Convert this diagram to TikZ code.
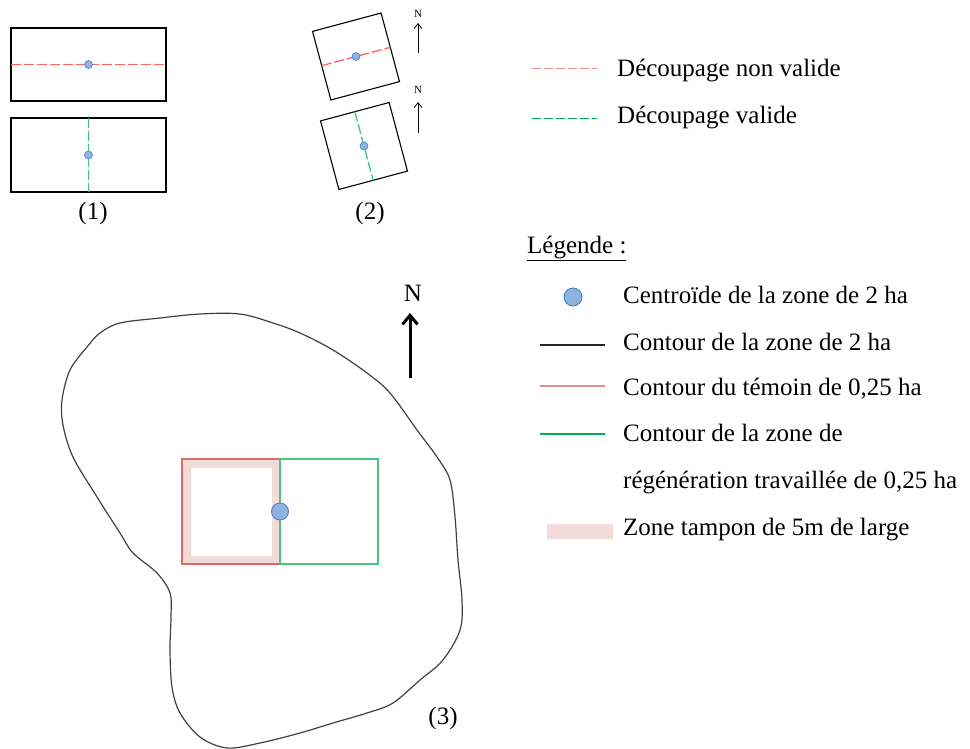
\documentclass[tikz,border=0pt]{standalone}
\usepackage{fontspec}
\setmainfont{Liberation Serif}
\usetikzlibrary{arrows.meta,positioning,backgrounds}
\definecolor{cutRed}{HTML}{FF6464}
\definecolor{cutGreen}{HTML}{3CC878}
\definecolor{legRed}{HTML}{D9908E}
\definecolor{legGreen}{HTML}{00B050}
\definecolor{edgeRed}{HTML}{DB6B68}
\definecolor{edgeGreen}{HTML}{4CC47E}
\definecolor{dotFill}{HTML}{8DB3E2}
\definecolor{dotLine}{HTML}{4A7EBB}
\definecolor{bufPink}{HTML}{F2DCDB}
\definecolor{blobInk}{HTML}{404040}

\begin{document}
\begin{tikzpicture}[x=1pt, y=-1pt,
  font=\fontsize{25}{30}\selectfont,
  rectbox/.style={draw=black, line width=1.2pt, inner sep=0pt, outer sep=0pt,
                  minimum width=155pt},
  sqbox/.style={draw=black, line width=1.1pt, inner sep=0pt, outer sep=0pt,
                minimum size=71pt, rotate=15},
  zonebox/.style={line width=1.2pt, inner sep=0pt, outer sep=0pt,
                  minimum width=98pt, minimum height=105pt},
  dot/.style={circle, fill=dotFill, draw=dotLine, line width=0.6pt,
              inner sep=0pt, minimum size=8pt},
  bigdot/.style={dot, line width=0.8pt, minimum size=17pt},
  cutbad/.style={cutRed, line width=1.3pt, dash pattern=on 10pt off 3pt},
  cutgood/.style={cutbad, cutGreen},
  lab/.style={anchor=base, inner sep=0pt},
  smalln/.style={lab, font=\fontsize{11}{13}\selectfont},
  narrow/.style={-{Straight Barb[length=5pt,width=8pt]}, line width=0.8pt},
  bigarr/.style={-{Straight Barb[length=9pt,width=15pt]}, line width=3pt},
  legtext/.style={anchor=base west, inner sep=0pt},
  legline/.style={line width=1.2pt},
  legdash/.style={line width=1pt, dash pattern=on 9pt off 3pt}
]
  \useasboundingbox (0,0) rectangle (970,749);

  % (1)
  \node[rectbox, minimum height=73pt] (recta) at (88.5,64.5) {};
  \node[rectbox, minimum height=74pt] (rectb) at (88.5,155) {};
  \draw[cutbad] (recta.west) -- (recta.east);
  \draw[cutgood] (rectb.north) -- (rectb.south);
  \node[dot] (dota) at (recta.center) {};
  \node[dot] (dotb) at (rectb.center) {};
  \node[lab] (lab1) at (93,219) {(1)};

  % (2)
  \node[sqbox] (sqa) at (356,56.5) {};
  \node[sqbox] (sqb) at (364,146) {};
  \draw[cutbad] (sqa.west) -- (sqa.east);
  \draw[cutgood] (sqb.north) -- (sqb.south);
  \node[dot] (dotc) at (sqa.center) {};
  \node[dot] (dotd) at (sqb.center) {};
  \node[smalln] (na) at (418,17.5) {N};
  \coordinate (naBase) at (418,53);
  \coordinate (naTip) at (418,23);
  \draw[narrow] (naBase) -- (naTip);
  \node[smalln] (nb) at (418,94) {N};
  \coordinate (nbBase) at (418,133);
  \coordinate (nbTip) at (418,102);
  \draw[narrow] (nbBase) -- (nbTip);
  \node[lab] (lab2) at (370,219) {(2)};

  % (3)
  \draw[blobInk, line width=1.2pt] plot[smooth cycle, tension=0.55] coordinates {
    (120,323) (160,318) (200,314) (240,314) (273,323) (300,333) (333,350)
    (367,373) (390,393) (417,430) (437,457) (450,480) (455,517) (458,560)
    (462,600) (460,630) (443,660) (420,680) (393,703) (367,713) (333,723)
    (300,733) (260,743) (227,748) (200,737) (180,713) (172,687) (170,650)
    (171,617) (170,593) (157,573) (133,553) (120,533) (97,497) (73,457)
    (63,425) (62,400) (70,370) (87,347) (100,333)};
  \node[zonebox, draw=edgeRed] (temoin) at (231,511.5) {};
  \node[zonebox, draw=edgeGreen] (regen) at (329,511.5) {};
  \begin{scope}[on background layer]
    \draw[bufPink, line width=8.5pt]
      ([shift={(4.25,4.25)}]temoin.north west) rectangle
      ([shift={(-4.25,-4.25)}]temoin.south east);
  \end{scope}
  \node[bigdot] (centre) at (temoin.east) {};
  \node[lab] (nbig) at (413,301.5) {N};
  \coordinate (nBase) at (410,378);
  \coordinate (nTip) at (410,313);
  \draw[bigarr] (nBase) -- (nTip);
  \node[lab] (lab3) at (443,724) {(3)};

  % legend
  \draw[legdash, legRed] (532,69) -- (597,69);
  \node[legtext] (tbad) at (617,76.5) {Découpage non valide};
  \draw[legdash, legGreen] (532,119) -- (597,119);
  \node[legtext] (tgood) at (617,123.5) {Découpage valide};

  \node[legtext] (legtitle) at (527,253) {\underline{Légende :}};
  \node[bigdot, minimum size=18pt] (legdot) at (573,297) {};
  \node[legtext] (tdot) at (623,303) {Centroïde de la zone de 2 ha};
  \draw[legline, black!85] (540,345) -- (605,345);
  \node[legtext] (tzone) at (623,350) {Contour de la zone de 2 ha};
  \draw[legline, legRed] (540,386) -- (605,386);
  \node[legtext] (ttemoin) at (623,395.5) {Contour du témoin de 0,25 ha};
  \draw[legline, legGreen] (540,434) -- (605,434);
  \node[legtext] (tregen) at (623,441.5) {Contour de la zone de};
  \node[legtext] (tregen2) at (623,488) {régénération travaillée de 0,25 ha};
  \fill[bufPink] (547,524) rectangle (613,539);
  \node[legtext] (tbuf) at (623,535) {Zone tampon de 5m de large};
\end{tikzpicture}
\end{document}
